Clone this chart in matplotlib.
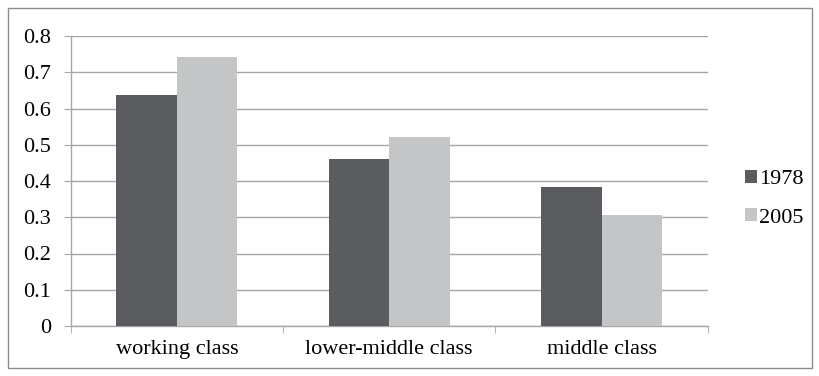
import matplotlib
matplotlib.use("Agg")
import numpy as np
import matplotlib.pyplot as plt
from matplotlib.patches import Rectangle

categories = ["working class", "lower-middle class", "middle class"]
series_names = ["1978", "2005"]
values_1978 = [0.637, 0.462, 0.384]
values_2005 = [0.742, 0.521, 0.306]
yticks = [0, 0.1, 0.2, 0.3, 0.4, 0.5, 0.6, 0.7, 0.8]

dark = "#5b5c5f"
light = "#c4c5c7"
grid_col = "#a6a6a6"

plt.rcParams["font.family"] = ["Liberation Serif", "DejaVu Serif"]
fs = 16

fig = plt.figure(figsize=(8.2, 3.76), dpi=100)
ax = fig.add_axes([70.7 / 820, 1 - 326 / 376, 637 / 820, 290 / 376])

# outer chart frame
fig.patches.append(Rectangle((8 / 820, 8 / 376), 804 / 820, 360 / 376,
                             transform=fig.transFigure, fill=False,
                             edgecolor="#8c8c8c", linewidth=1.0))

x = np.arange(len(categories))
w = 0.285
ax.bar(x - w / 2, values_1978, w, color=dark, label=series_names[0], zorder=3)
ax.bar(x + w / 2, values_2005, w, color=light, label=series_names[1], zorder=3)

ax.set_xlim(-0.5, len(categories) - 0.5)
ax.set_ylim(0, 0.8)
ax.set_yticks(yticks)
ax.set_yticklabels(["0"] + [f"{t:.1f}" for t in yticks[1:]])
ax.set_xticks(x)
ax.set_xticklabels(categories)
ax.set_xticks([-0.5, 0.5, 1.5, 2.5], minor=True)

ax.grid(axis="y", color=grid_col, linewidth=1.0, zorder=0)
for s in ["top", "right"]:
    ax.spines[s].set_visible(False)
ax.spines["left"].set_color(grid_col)
ax.spines["bottom"].set_color(grid_col)
ax.spines["left"].set_linewidth(1.0)
ax.spines["bottom"].set_linewidth(1.0)

ax.tick_params(axis="y", which="major", length=5, color=grid_col, labelsize=fs, pad=9)
ax.tick_params(axis="x", which="major", length=0, labelsize=fs, pad=10)
ax.tick_params(axis="x", which="minor", length=5, color=grid_col)

leg = ax.legend(loc="upper left", bbox_to_anchor=(1.045, 0.57), frameon=False,
                fontsize=fs, handlelength=0.55, handleheight=0.55,
                handletextpad=0.08, labelspacing=0.85, borderaxespad=0)

fig.savefig("out.png", dpi=100)
